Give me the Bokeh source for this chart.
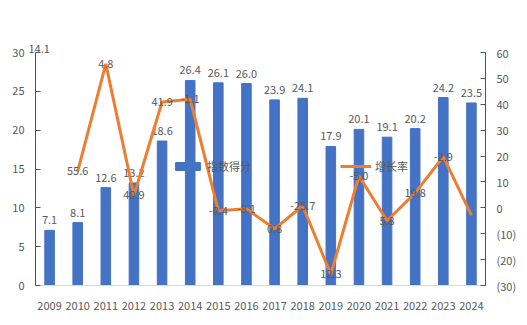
from bokeh.plotting import figure
from bokeh.models import (ColumnDataSource, Range1d, FactorRange, LinearAxis, FixedTicker,
                          CustomJSTickFormatter, Legend, LegendItem)
from bokeh.core.properties import value
from bokeh.embed import file_html
from bokeh.resources import INLINE

years = ["2009", "2010", "2011", "2012", "2013", "2014", "2015", "2016",
         "2017", "2018", "2019", "2020", "2021", "2022", "2023", "2024"]
scores = [7.1, 8.1, 12.6, 13.2, 18.6, 26.4, 26.1, 26.0, 23.9, 24.1, 17.9, 20.1, 19.1, 20.2, 24.2, 23.5]
growth_years = years[1:]
growth = [14.1, 55.6, 4.8, 40.9, 41.9, -1.1, -0.4, -8.1, 0.8, -25.7, 12.3, -5.0, 5.8, 19.8, -2.9]
left_ticks = [0, 5, 10, 15, 20, 25, 30]
right_ticks = [-30, -20, -10, 0, 10, 20, 30, 40, 50, 60]
series_names = ["指数得分", "增长率"]

FONT = "Noto Sans CJK SC"
TXT = "#595959"
BAR = "#4472C4"
LINE = "#ED7D31"

p = figure(width=527, height=325, x_range=FactorRange(*years), y_range=Range1d(0, 30),
           output_backend="svg", toolbar_location=None,
           min_border_left=35, min_border_right=42, min_border_top=52, min_border_bottom=40)
p.outline_line_color = None
p.xgrid.visible = False
p.ygrid.visible = False
p.extra_y_ranges = {"g": Range1d(-30, 60)}

bar_src = ColumnDataSource(dict(x=years, top=scores, lab=[f"{v:.1f}" for v in scores]))
bars = p.vbar(x="x", top="top", width=0.34, source=bar_src, color=BAR)
p.text(x="x", y="top", text="lab", source=bar_src, text_align="center", text_baseline="bottom",
       y_offset=-6, text_font=value(FONT), text_font_size="11px", text_color=TXT)

line_src = ColumnDataSource(dict(x=growth_years, y=growth))
ln = p.line(x="x", y="y", source=line_src, y_range_name="g", line_color=LINE, line_width=3)

# line data labels (as displayed in the reference: shifted by one point)
lab_src = ColumnDataSource(dict(x=growth_years[:-1], y=growth[:-1],
                                lab=[f"{v:.1f}" for v in growth[1:]]))
p.text(x="x", y="y", text="lab", source=lab_src, y_range_name="g", text_align="center",
       text_baseline="middle", text_font=value(FONT), text_font_size="11px", text_color=TXT)

# first growth label sits at the top-left corner (outside the frame's clip)
p.title.text = f"{growth[0]:.1f}"
p.title.align = "left"
p.title.offset = -7
p.title.standoff = 0
p.title.text_font = FONT
p.title.text_font_size = "11px"
p.title.text_font_style = "normal"
p.title.text_color = TXT

# axes
ax = p.yaxis[0]
ax.ticker = FixedTicker(ticks=left_ticks)
ax.axis_line_color = "#44546A"
ax.major_tick_line_color = "#44546A"
ax.major_tick_in = 5
ax.major_tick_out = 0
ax.minor_tick_line_color = None
ax.major_label_standoff = 11
ax.major_label_text_font = FONT
ax.major_label_text_font_size = "11px"
ax.major_label_text_color = TXT

ry = LinearAxis(y_range_name="g", ticker=FixedTicker(ticks=right_ticks),
                formatter=CustomJSTickFormatter(code="return tick < 0 ? '(' + Math.abs(tick) + ')' : String(tick);"))
ry.axis_line_color = "#44546A"
ry.major_tick_line_color = "#44546A"
ry.major_tick_in = 5
ry.major_tick_out = 0
ry.minor_tick_line_color = None
ry.major_label_standoff = 11
ry.major_label_text_font = FONT
ry.major_label_text_font_size = "11px"
ry.major_label_text_color = TXT
p.add_layout(ry, "right")

xa = p.xaxis[0]
xa.axis_line_color = "#D9D9D9"
xa.major_tick_line_color = None
xa.minor_tick_line_color = None
xa.major_label_standoff = 10
xa.major_label_text_font = FONT
xa.major_label_text_font_size = "11px"
xa.major_label_text_color = TXT

legend = Legend(items=[LegendItem(label=series_names[0], renderers=[bars]),
                       LegendItem(label=series_names[1], renderers=[ln])],
                orientation="horizontal", location=(137, 111), padding=0, margin=0,
                spacing=89, glyph_width=31, glyph_height=10, label_height=12,
                label_standoff=4, border_line_color=None, background_fill_alpha=0,
                label_text_font=FONT, label_text_font_size="11px", label_text_color=TXT)
p.add_layout(legend, "center")

open("out.html", "w").write(file_html(p, INLINE))
